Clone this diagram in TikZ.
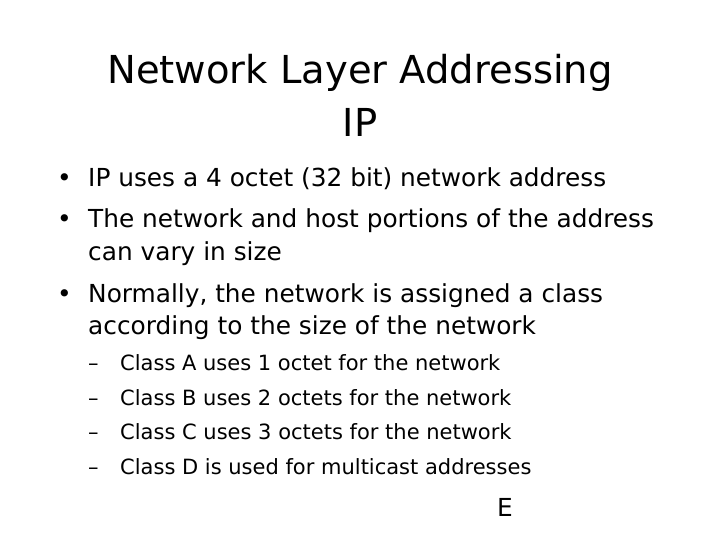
\documentclass[tikz,border=0pt]{standalone}
\usepackage{fontspec}
\setmainfont{DejaVu Sans}
\begin{document}
\begin{tikzpicture}[x=1pt,y=-1pt,inner sep=0pt,
  titleline/.style={anchor=base,font=\fontsize{38.5}{38.5}\selectfont},
  bodyline/.style={anchor=base west,font=\fontsize{24.8}{24.8}\selectfont},
  subline/.style={anchor=base west,font=\fontsize{21}{21}\selectfont}]
\useasboundingbox (0,0) rectangle (720,540);
\node[titleline] (title1) at (360,84) {Network Layer Addressing};
\node[titleline] (title2) at (360,137) {IP};

\node[bodyline] (bull1) at (57,187) {•};
\node[bodyline] (body1) at (88,187) {IP uses a 4 octet (32 bit) network address};
\node[bodyline] (bull2) at (57,227) {•};
\node[bodyline] (body2) at (88,227) {The network and host portions of the address};
\node[bodyline] (body3) at (88,260) {can vary in size};
\node[bodyline] (bull3) at (57,302) {•};
\node[bodyline] (body4) at (88,302) {Normally, the network is assigned a class};
\node[bodyline] (body5) at (88,334) {according to the size of the network};

\node[subline] (dash1) at (88,370) {–};
\node[subline] (sub1) at (120,370) {Class A uses 1 octet for the network};
\node[subline] (dash2) at (88,405) {–};
\node[subline] (sub2) at (120,405) {Class B uses 2 octets for the network};
\node[subline] (dash3) at (88,439) {–};
\node[subline] (sub3) at (120,439) {Class C uses 3 octets for the network};
\node[subline] (dash4) at (88,474) {–};
\node[subline] (sub4) at (120,474) {Class D is used for multicast addresses};

\node[bodyline] (mark) at (497,516) {E};
\end{tikzpicture}
\end{document}
